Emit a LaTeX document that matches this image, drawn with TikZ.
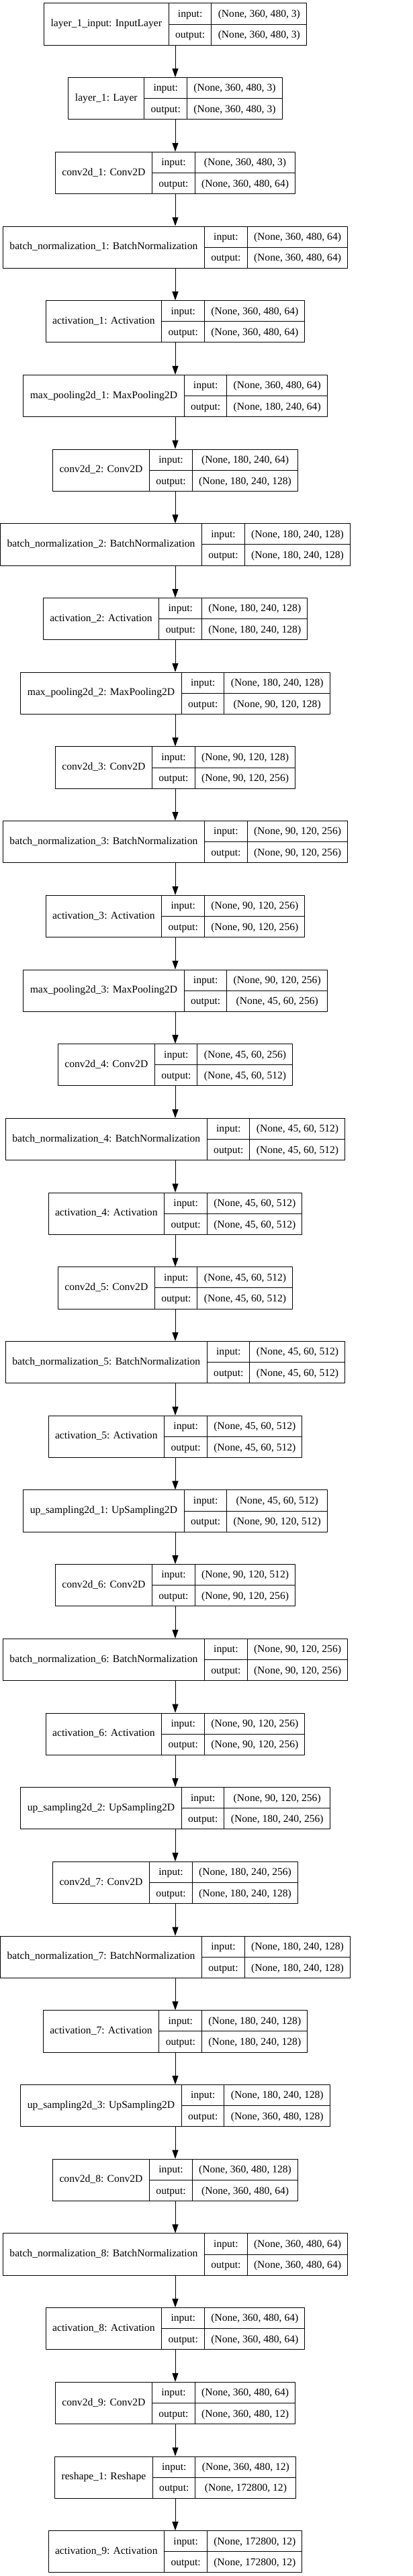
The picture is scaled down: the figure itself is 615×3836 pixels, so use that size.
\documentclass[tikz,border=0pt]{standalone}
\usepackage{fontspec}
\setmainfont{Liberation Serif}
\usepackage{tikz}
\usetikzlibrary{arrows.meta}

\setlength{\arrayrulewidth}{1pt}
\newcommand{\rowstrut}{\rule[-10.3pt]{0pt}{30.6pt}}
\newcommand{\layerrec}[3]{%
  \begin{tabular}{@{\hspace{10pt}}c@{\hspace{10pt}}|@{}c@{}}
    #1 &
    \begin{tabular}{@{\hspace{9.5pt}}c@{\hspace{9.5pt}}|@{\hspace{9.5pt}}c@{\hspace{9.5pt}}}
      \rowstrut input: & #2 \\ \hline
      \rowstrut output: & #3
    \end{tabular}
  \end{tabular}}

\begin{document}
\begin{tikzpicture}[line cap=round,line join=round,x=1pt,y=-1pt,
  rec/.style={draw, line width=1pt, inner sep=0pt, font=\fontsize{15.6}{18.7}\selectfont},
  flow/.style={-{Triangle[length=13pt,width=9pt]}, line width=1pt}]
\path[fill=white] (0,0) rectangle (615,3836);

\node[rec] (L1) at (261,36) {\layerrec{layer\_1\_input: InputLayer}{(None, 360, 480, 3)}{(None, 360, 480, 3)}};
\node[rec] (L2) at (261,146.7) {\layerrec{layer\_1: Layer}{(None, 360, 480, 3)}{(None, 360, 480, 3)}};
\node[rec] (L3) at (261,257.4) {\layerrec{conv2d\_1: Conv2D}{(None, 360, 480, 3)}{(None, 360, 480, 64)}};
\node[rec] (L4) at (261,368.1) {\layerrec{batch\_normalization\_1: BatchNormalization}{(None, 360, 480, 64)}{(None, 360, 480, 64)}};
\node[rec] (L5) at (261,478.8) {\layerrec{activation\_1: Activation}{(None, 360, 480, 64)}{(None, 360, 480, 64)}};
\node[rec] (L6) at (261,589.5) {\layerrec{max\_pooling2d\_1: MaxPooling2D}{(None, 360, 480, 64)}{(None, 180, 240, 64)}};
\node[rec] (L7) at (261,700.2) {\layerrec{conv2d\_2: Conv2D}{(None, 180, 240, 64)}{(None, 180, 240, 128)}};
\node[rec] (L8) at (261,810.9) {\layerrec{batch\_normalization\_2: BatchNormalization}{(None, 180, 240, 128)}{(None, 180, 240, 128)}};
\node[rec] (L9) at (261,921.6) {\layerrec{activation\_2: Activation}{(None, 180, 240, 128)}{(None, 180, 240, 128)}};
\node[rec] (L10) at (261,1032.3) {\layerrec{max\_pooling2d\_2: MaxPooling2D}{(None, 180, 240, 128)}{(None, 90, 120, 128)}};
\node[rec] (L11) at (261,1143) {\layerrec{conv2d\_3: Conv2D}{(None, 90, 120, 128)}{(None, 90, 120, 256)}};
\node[rec] (L12) at (261,1253.7) {\layerrec{batch\_normalization\_3: BatchNormalization}{(None, 90, 120, 256)}{(None, 90, 120, 256)}};
\node[rec] (L13) at (261,1364.4) {\layerrec{activation\_3: Activation}{(None, 90, 120, 256)}{(None, 90, 120, 256)}};
\node[rec] (L14) at (261,1475.1) {\layerrec{max\_pooling2d\_3: MaxPooling2D}{(None, 90, 120, 256)}{(None, 45, 60, 256)}};
\node[rec] (L15) at (261,1585.8) {\layerrec{conv2d\_4: Conv2D}{(None, 45, 60, 256)}{(None, 45, 60, 512)}};
\node[rec] (L16) at (261,1696.5) {\layerrec{batch\_normalization\_4: BatchNormalization}{(None, 45, 60, 512)}{(None, 45, 60, 512)}};
\node[rec] (L17) at (261,1807.2) {\layerrec{activation\_4: Activation}{(None, 45, 60, 512)}{(None, 45, 60, 512)}};
\node[rec] (L18) at (261,1917.9) {\layerrec{conv2d\_5: Conv2D}{(None, 45, 60, 512)}{(None, 45, 60, 512)}};
\node[rec] (L19) at (261,2028.6) {\layerrec{batch\_normalization\_5: BatchNormalization}{(None, 45, 60, 512)}{(None, 45, 60, 512)}};
\node[rec] (L20) at (261,2139.3) {\layerrec{activation\_5: Activation}{(None, 45, 60, 512)}{(None, 45, 60, 512)}};
\node[rec] (L21) at (261,2250) {\layerrec{up\_sampling2d\_1: UpSampling2D}{(None, 45, 60, 512)}{(None, 90, 120, 512)}};
\node[rec] (L22) at (261,2360.7) {\layerrec{conv2d\_6: Conv2D}{(None, 90, 120, 512)}{(None, 90, 120, 256)}};
\node[rec] (L23) at (261,2471.4) {\layerrec{batch\_normalization\_6: BatchNormalization}{(None, 90, 120, 256)}{(None, 90, 120, 256)}};
\node[rec] (L24) at (261,2582.1) {\layerrec{activation\_6: Activation}{(None, 90, 120, 256)}{(None, 90, 120, 256)}};
\node[rec] (L25) at (261,2692.8) {\layerrec{up\_sampling2d\_2: UpSampling2D}{(None, 90, 120, 256)}{(None, 180, 240, 256)}};
\node[rec] (L26) at (261,2803.5) {\layerrec{conv2d\_7: Conv2D}{(None, 180, 240, 256)}{(None, 180, 240, 128)}};
\node[rec] (L27) at (261,2914.2) {\layerrec{batch\_normalization\_7: BatchNormalization}{(None, 180, 240, 128)}{(None, 180, 240, 128)}};
\node[rec] (L28) at (261,3024.9) {\layerrec{activation\_7: Activation}{(None, 180, 240, 128)}{(None, 180, 240, 128)}};
\node[rec] (L29) at (261,3135.6) {\layerrec{up\_sampling2d\_3: UpSampling2D}{(None, 180, 240, 128)}{(None, 360, 480, 128)}};
\node[rec] (L30) at (261,3246.3) {\layerrec{conv2d\_8: Conv2D}{(None, 360, 480, 128)}{(None, 360, 480, 64)}};
\node[rec] (L31) at (261,3357) {\layerrec{batch\_normalization\_8: BatchNormalization}{(None, 360, 480, 64)}{(None, 360, 480, 64)}};
\node[rec] (L32) at (261,3467.7) {\layerrec{activation\_8: Activation}{(None, 360, 480, 64)}{(None, 360, 480, 64)}};
\node[rec] (L33) at (261,3578.4) {\layerrec{conv2d\_9: Conv2D}{(None, 360, 480, 64)}{(None, 360, 480, 12)}};
\node[rec] (L34) at (261,3689.1) {\layerrec{reshape\_1: Reshape}{(None, 360, 480, 12)}{(None, 172800, 12)}};
\node[rec] (L35) at (261,3799.8) {\layerrec{activation\_9: Activation}{(None, 172800, 12)}{(None, 172800, 12)}};

% layer to layer
\foreach \i [evaluate=\i as \j using int(\i+1)] in {1,...,34}
  \draw[flow] (L\i) -- (L\j);

\end{tikzpicture}
\end{document}
